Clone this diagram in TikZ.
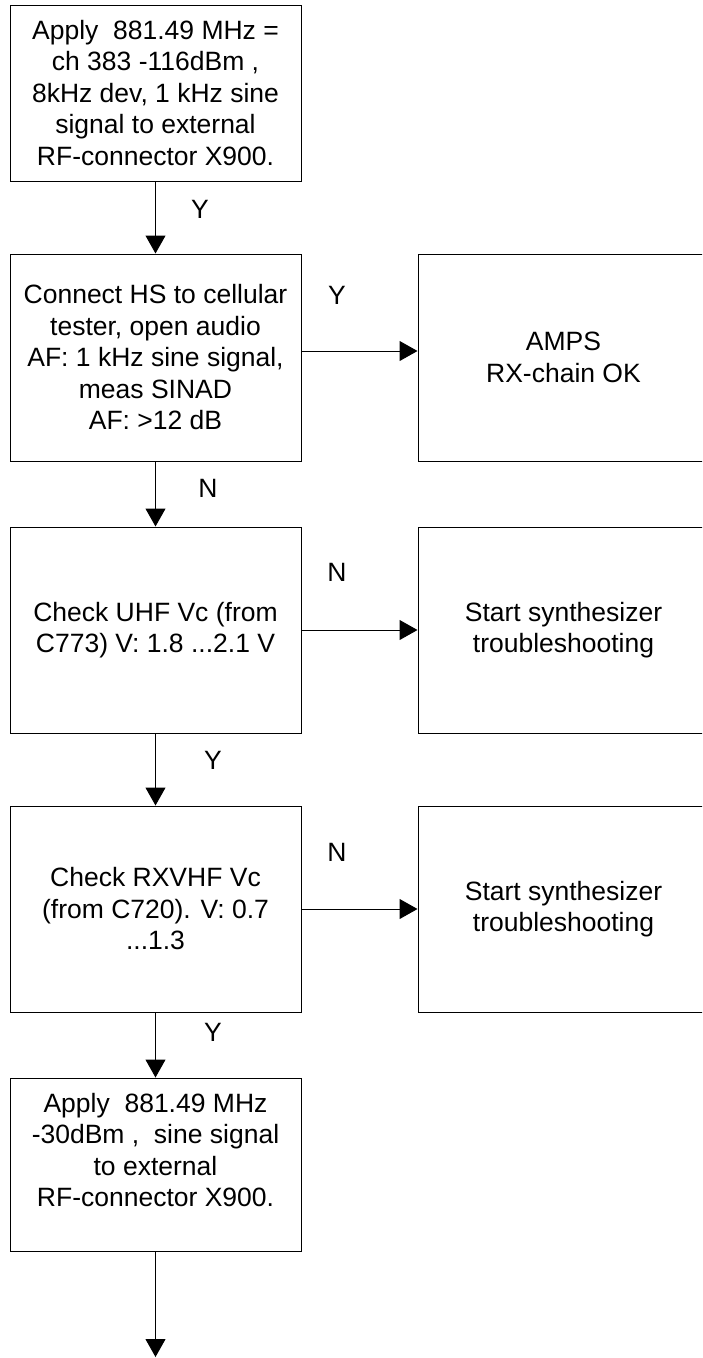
\documentclass[tikz,border=0pt]{standalone}
\usepackage{fontspec}
\setmainfont{Liberation Sans}
\usetikzlibrary{arrows.meta}
\tikzset{
	box/.style={draw,line width=1pt,minimum width=291,align=center,inner sep=0pt,font=\fontsize{26.5}{31.5}\selectfont},
	yn/.style={font=\fontsize{26.5}{31.5}\selectfont},
	flow/.style={line width=1pt,-{Triangle[length=18,width=20]}}
}
\begin{document}
\begin{tikzpicture}[x=1pt,y=-1pt]
		\clip (0,0) rectangle (702,1358);
		\node[box,minimum height=176] (apply1) at (155.5,93){Apply\ \ 881.49 MHz =\\ch 383 -116dBm ,\\8kHz dev, 1 kHz sine\\signal to external\\RF-connector X900.};
		\node[box,minimum height=207] (sinad) at (155.5,357.5){Connect HS to cellular\\tester, open audio\\AF: 1 kHz sine signal,\\meas SINAD\\AF: >12 dB};
		\node[box,minimum height=206] (uhf) at (155.5,630){Check UHF Vc (from\\C773) V: 1.8 ...2.1 V};
		\node[box,minimum height=206] (vhf) at (155.5,909){Check RXVHF Vc\\(from C720). V: 0.7\\...1.3};
		\node[box,minimum height=173] (apply2) at (155.5,1164.5){Apply\ \ 881.49 MHz\\-30dBm ,\ \ sine signal\\to external\\RF-connector X900.\\[-2pt]};

		\node[box,minimum height=207] (ok) at (563.5,357.5){AMPS\\RX-chain OK};
		\node[box,minimum height=206] (synth1) at (563.5,630){Start synthesizer\\troubleshooting};
		\node[box,minimum height=206] (synth2) at (563.5,909){Start synthesizer\\troubleshooting};

		\coordinate (next) at (155.5,1357);

		\draw[flow] (apply1)--(sinad);
		\draw[flow] (sinad)--(uhf);
		\draw[flow] (uhf)--(vhf);
		\draw[flow] (vhf)--(apply2);
		\draw[flow] (apply2)--(next);
		\draw[flow] ([yshift=6.5]sinad.east)--([yshift=6.5]ok.west);
		\draw[flow] (uhf)--(synth1);
		\draw[flow] (vhf)--(synth2);

		\node[yn] (y1) at (200,209){Y};
		\node[yn] (y2) at (337,295){Y};
		\node[yn] (n1) at (208,488){N};
		\node[yn] (n2) at (337,572){N};
		\node[yn] (y3) at (213,760){Y};
		\node[yn] (n3) at (337,852){N};
		\node[yn] (y4) at (213,1032){Y};
	\end{tikzpicture}
\end{document}
